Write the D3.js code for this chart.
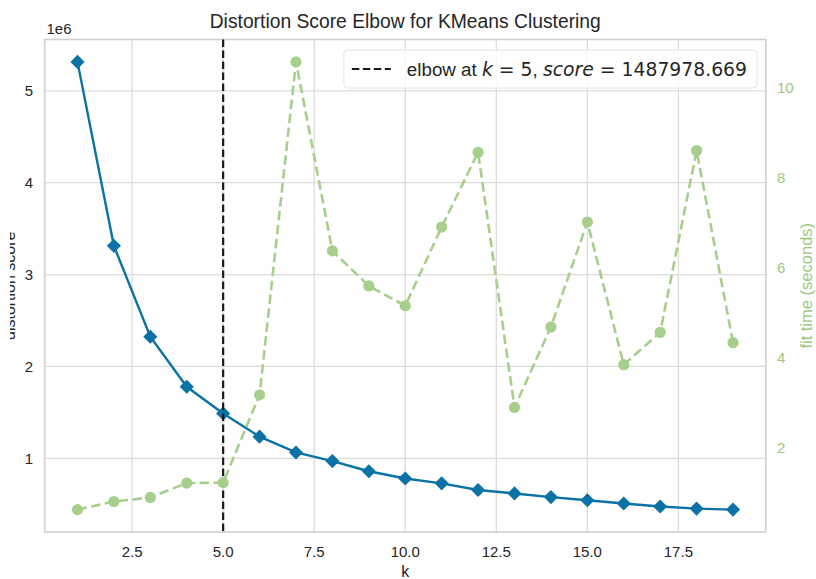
<!DOCTYPE html>
<html>
<head>
<meta charset="utf-8">
<script src="https://cdn.jsdelivr.net/npm/d3@7/dist/d3.min.js"></script>
<style>
  body { margin: 0; background: #fff; }
  svg { display: block; font-family: "Liberation Sans", Arial, sans-serif; }
</style>
</head>
<body>
<svg id="chart" width="816" height="579"></svg>
<script>
// Data
const kValues = [1, 2, 3, 4, 5, 6, 7, 8, 9, 10, 11, 12, 13, 14, 15, 16, 17, 18, 19];
const distortion = [5315000, 3313000, 2323000, 1779000, 1487978.669, 1236000, 1064000, 970000, 860000,
  781000, 728000, 656000, 618000, 578000, 544000, 509000, 476000, 453000, 442000];
const fitTimes = [0.63, 0.81, 0.90, 1.22, 1.23, 3.18, 10.58, 6.38, 5.60, 5.16, 6.91, 8.57,
  2.90, 4.69, 7.02, 3.85, 4.57, 8.61, 4.34];
const elbowK = 5;
const xTicks = [2.5, 5, 7.5, 10, 12.5, 15, 17.5];
const yTicks = [1e6, 2e6, 3e6, 4e6, 5e6];
const y2Ticks = [2, 4, 6, 8, 10];

const title = 'Distortion Score Elbow for KMeans Clustering';

(function() {
  'use strict';

  const width = 816;
  const height = 579;
  const plot = { left: 44.7, right: 765.8, top: 39.5, bottom: 532 };

  const blue = '#0b72a6';
  const green = '#a7cf8c';
  const greenText = '#9cc882';
  const ink = '#262626';
  const gridColor = '#dcdcdc';

  // matplotlib style 5% margins around the data
  function padded(values) {
    const [lo, hi] = d3.extent(values);
    const m = (hi - lo) * 0.05;
    return [lo - m, hi + m];
  }

  const x = d3.scaleLinear().domain(padded(kValues)).range([plot.left, plot.right]);
  const y = d3.scaleLinear().domain(padded(distortion)).range([plot.bottom, plot.top]);
  const y2 = d3.scaleLinear().domain(padded(fitTimes)).range([plot.bottom, plot.top]);

  const svg = d3.select('#chart');

  // the reference image is cropped just left of the y label
  svg.append('defs').append('clipPath').attr('id', 'page-crop')
    .append('rect').attr('x', 10).attr('y', 0).attr('width', width).attr('height', height);

  // Grid
  const grid = svg.append('g');
  xTicks.forEach(t => {
    grid.append('line')
      .attr('x1', x(t)).attr('x2', x(t))
      .attr('y1', plot.top).attr('y2', plot.bottom)
      .attr('stroke', gridColor).attr('stroke-width', 1.3);
  });
  yTicks.forEach(t => {
    grid.append('line')
      .attr('x1', plot.left).attr('x2', plot.right)
      .attr('y1', y(t)).attr('y2', y(t))
      .attr('stroke', gridColor).attr('stroke-width', 1.3);
  });

  // Frame
  svg.append('rect')
    .attr('x', plot.left).attr('y', plot.top)
    .attr('width', plot.right - plot.left).attr('height', plot.bottom - plot.top)
    .attr('fill', 'none').attr('stroke', '#d0d0d0').attr('stroke-width', 1.6);

  // Tick labels
  const fmtX = d3.format('.1f');
  xTicks.forEach(t => {
    svg.append('text')
      .attr('x', x(t)).attr('y', 557)
      .attr('text-anchor', 'middle')
      .attr('font-size', 15).attr('fill', ink)
      .text(fmtX(t));
  });
  yTicks.forEach(t => {
    svg.append('text')
      .attr('x', 33).attr('y', y(t)).attr('dy', '0.35em')
      .attr('text-anchor', 'end')
      .attr('font-size', 15).attr('fill', ink)
      .text(t / 1e6);
  });
  svg.append('text')
    .attr('x', 46.5).attr('y', 34)
    .attr('font-size', 15).attr('fill', ink)
    .text('1e6');
  y2Ticks.forEach(t => {
    svg.append('text')
      .attr('x', 777).attr('y', y2(t)).attr('dy', '0.35em')
      .attr('font-size', 15).attr('fill', greenText)
      .text(t);
  });

  // Axis labels and title
  svg.append('text')
    .attr('x', (plot.left + plot.right) / 2).attr('y', 577)
    .attr('text-anchor', 'middle')
    .attr('font-size', 16).attr('fill', ink)
    .text('k');
  svg.append('g')
    .attr('clip-path', 'url(#page-crop)')
    .append('text')
    .attr('transform', `translate(14.5,${(plot.top + plot.bottom) / 2}) rotate(-90)`)
    .attr('text-anchor', 'middle')
    .attr('font-size', 16).attr('fill', ink)
    .text('distortion score');
  svg.append('text')
    .attr('transform', `translate(812,${(plot.top + plot.bottom) / 2}) rotate(-90)`)
    .attr('text-anchor', 'middle')
    .attr('font-size', 16.5).attr('fill', greenText)
    .text('fit time (seconds)');
  svg.append('text')
    .attr('x', (plot.left + plot.right) / 2).attr('y', 28)
    .attr('text-anchor', 'middle')
    .attr('font-size', 19.3).attr('fill', ink)
    .text(title);

  // Distortion line with diamond markers
  const line = d3.line().x((d, i) => x(kValues[i])).y(d => y(d));
  svg.append('path')
    .datum(distortion)
    .attr('d', line)
    .attr('fill', 'none').attr('stroke', blue).attr('stroke-width', 2.4);
  const diamond = d3.symbol().type(d3.symbolSquare).size(100);
  distortion.forEach((d, i) => {
    svg.append('path')
      .attr('d', diamond())
      .attr('transform', `translate(${x(kValues[i])},${y(d)}) rotate(45)`)
      .attr('fill', blue);
  });

  // Elbow marker
  svg.append('line')
    .attr('x1', x(elbowK)).attr('x2', x(elbowK))
    .attr('y1', plot.top).attr('y2', plot.bottom)
    .attr('stroke', '#1a1a1a').attr('stroke-width', 2.2)
    .attr('stroke-dasharray', '7.5,3.5');

  // Legend
  const legend = svg.append('g');
  const legendBox = legend.append('rect')
    .attr('rx', 4).attr('ry', 4)
    .attr('fill', 'rgba(255,255,255,0.8)')
    .attr('stroke', '#e4e4e4').attr('stroke-width', 1);
  const sample = legend.append('line')
    .attr('stroke', '#1a1a1a').attr('stroke-width', 2.2)
    .attr('stroke-dasharray', '7.5,3.5');
  const label = legend.append('text')
    .attr('font-size', 18.8).attr('fill', ink)
    .style('white-space', 'pre');
  const score = d3.format('.3f')(distortion[kValues.indexOf(elbowK)]);
  const math = '"DejaVu Sans", sans-serif';
  label.append('tspan').text('elbow at ');
  label.append('tspan').attr('font-family', math).attr('font-style', 'italic').text('k');
  label.append('tspan').attr('font-family', math).text(' = ' + elbowK);
  label.append('tspan').text(', ');
  label.append('tspan').attr('font-family', math).attr('font-style', 'italic').text('score');
  label.append('tspan').attr('font-family', math).text(' = ' + score);

  const textWidth = label.node().getComputedTextLength();
  const boxRight = 757;
  const boxW = 8 + 39 + 16 + textWidth + 10;
  const boxX = boxRight - boxW;
  legendBox.attr('x', boxX).attr('y', 50).attr('width', boxW).attr('height', 38);
  sample.attr('x1', boxX + 8).attr('x2', boxX + 47).attr('y1', 69).attr('y2', 69);
  label.attr('x', boxX + 63).attr('y', 76);

  // Fit time on the twin axis, drawn on top
  const line2 = d3.line().x((d, i) => x(kValues[i])).y(d => y2(d));
  svg.append('path')
    .datum(fitTimes)
    .attr('d', line2)
    .attr('fill', 'none').attr('stroke', green).attr('stroke-width', 2.6)
    .attr('stroke-dasharray', '9.5,4.5');
  fitTimes.forEach((d, i) => {
    svg.append('circle')
      .attr('cx', x(kValues[i])).attr('cy', y2(d))
      .attr('r', 5.6)
      .attr('fill', green);
  });
})();
</script>
</body>
</html>
